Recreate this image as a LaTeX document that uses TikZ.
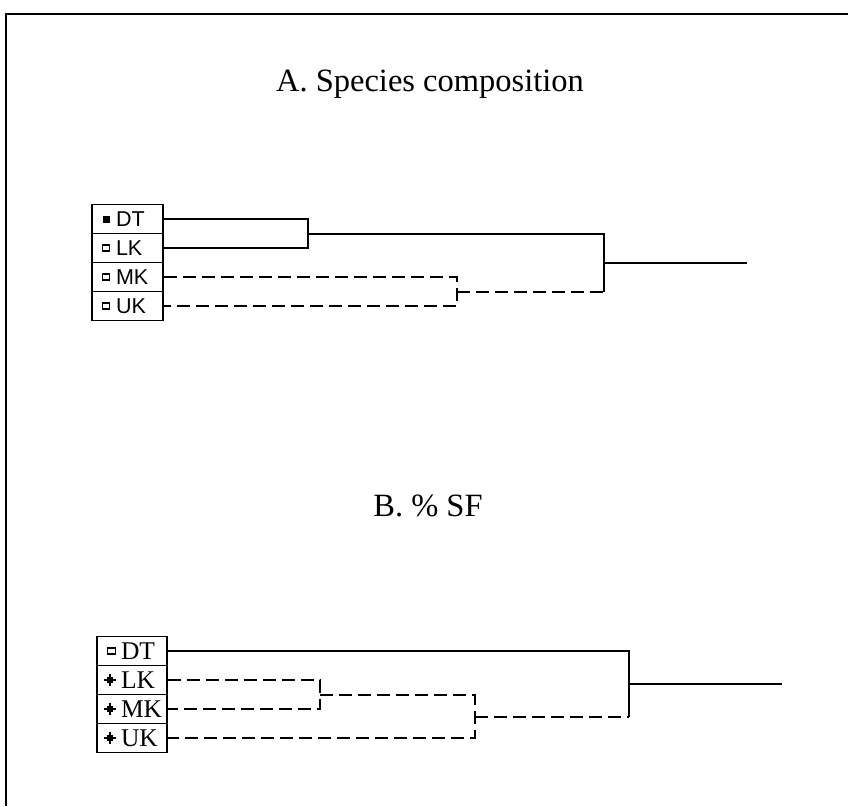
\documentclass[tikz,border=0pt]{standalone}
\usepackage{fontspec}
\setmainfont{Liberation Serif}
\newfontfamily\arialf{Liberation Sans}
\newcommand\labA[1]{\makebox[71pt][l]{\hspace{24pt}#1}}
\newcommand\labB[1]{\makebox[70pt][l]{\hspace{24pt}#1}}
\begin{document}
\begin{tikzpicture}[x=1pt,y=-1pt,
  rowA/.style={draw, line width=1.6pt, inner xsep=0pt, inner ysep=0pt, minimum height=29pt, font=\arialf\fontsize{21.5}{23}\selectfont},
  rowB/.style={draw, line width=1.6pt, inner xsep=0pt, inner ysep=0pt, minimum height=29pt, font=\fontsize{25.5}{27}\selectfont},
  link/.style={line width=2pt},
  dlink/.style={line width=2pt, dash pattern=on 13pt off 6pt},
  ttl/.style={font=\fontsize{32.5}{35}\selectfont}]
\useasboundingbox (0,0) rectangle (848,806);
\fill[white] (0,0) rectangle (848,806);
\draw[line width=2pt] (6,806) |- (848,14);
% Panel A
\node[ttl] (tA) at (430,84) {A. Species composition};
\node[rowA] (aDT) at (127.5,219) {\labA{DT}};
\node[rowA] (aLK) at (127.5,248) {\labA{LK}};
\node[rowA] (aMK) at (127.5,277) {\labA{MK}};
\node[rowA] (aUK) at (127.5,306) {\labA{UK}};
\fill ([xshift=15pt]aDT.west) ++(-3.5,-3.5) rectangle ++(7,7);
\foreach \n in {aLK,aMK,aUK}{
  \draw[line width=1.3pt] ([xshift=15pt]\n.west) ++(-3.5,-3) rectangle ++(7,6);
}
\coordinate (nA1) at (308,234);
\coordinate (nA2) at (457,292);
\coordinate (nA3) at (604,263);
\coordinate (cA) at (604,292);
\coordinate (rA) at (747,263);
\draw[link] (aDT.east) -| (nA1) |- (aLK.east);
\draw[dlink] (aMK.east) -| (nA2) |- (aUK.east);
\draw[link] (nA1) -| (cA);
\draw[dlink] (nA2) -- (cA);
\draw[link] (nA3) -- (rA);
% Panel B
\node[ttl] (tB) at (428,506) {B. \% SF};
\node[rowB] (bDT) at (132,651) {\labB{DT}};
\node[rowB] (bLK) at (132,680) {\labB{LK}};
\node[rowB] (bMK) at (132,709) {\labB{MK}};
\node[rowB] (bUK) at (132,738) {\labB{UK}};
\draw[line width=1.4pt] ([xshift=15pt]bDT.west) ++(-4,-3) rectangle ++(8,6);
\foreach \n in {bLK,bMK,bUK}{
  \fill ([xshift=14pt]\n.west) ++(-3,-3) rectangle ++(6,6);
  \draw[line width=1.6pt] ([xshift=8pt]\n.west) -- ++(12,0);
  \draw[line width=1.6pt] ([xshift=14pt,yshift=-6pt]\n.west) -- ++(0,-12);
}
\coordinate (nB1) at (320,695);
\coordinate (nB2) at (475,717);
\coordinate (nB3) at (629,684);
\coordinate (cB) at (629,717);
\coordinate (rB) at (782,684);
\draw[dlink] (bLK.east) -| (nB1) |- (bMK.east);
\draw[dlink] (nB1) -| (nB2) |- (bUK.east);
\draw[link] (bDT.east) -| (cB);
\draw[dlink] (nB2) -- (cB);
\draw[link] (nB3) -- (rB);
\end{tikzpicture}
\end{document}
